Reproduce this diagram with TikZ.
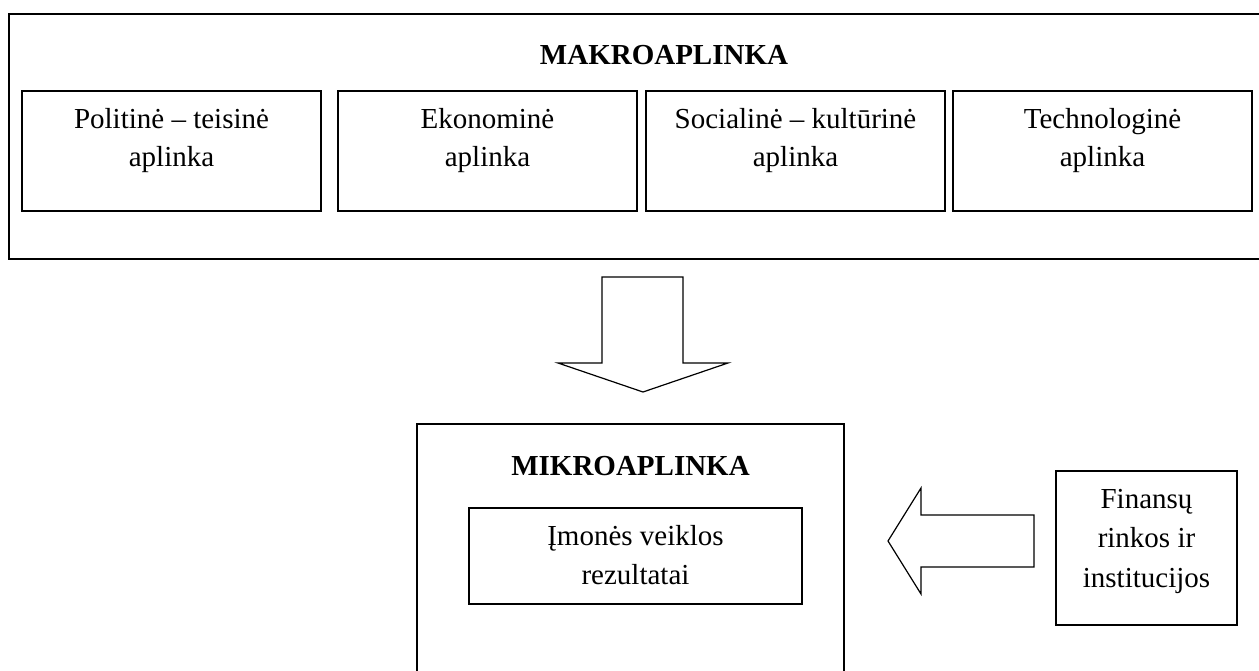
\documentclass[tikz,border=0pt]{standalone}
\usepackage{fontspec}
\setmainfont{Liberation Serif}
\begin{document}
\begin{tikzpicture}[x=1pt,y=-1pt,
  frame/.style={draw, line width=2.2pt, inner sep=0pt},
  envbox/.style={draw, line width=1.5pt, inner sep=0pt, minimum width=299pt, minimum height=120pt},
  plainbox/.style={draw, line width=1.5pt, inner sep=0pt},
  lbl/.style={align=center, inner sep=0pt, anchor=north, font=\fontsize{29}{38}\selectfont},
  lbllow/.style={lbl, font=\fontsize{29}{39.5}\selectfont},
  heading/.style={inner sep=0pt, anchor=base, font=\fontsize{29}{38}\selectfont\bfseries},
  blockarrow/.style={draw, line width=1.2pt, line join=miter}]
\clip (0,0) rectangle (1259,671);

% macro-environment frame (open on the right)
\node[frame, minimum width=1300pt, minimum height=245pt] (makro) at (659,136.5) {};
\node[heading] (makrotitle) at (664,65) {MAKROAPLINKA};

% the four macro factors
\node[envbox] (pol) at (171.5,151) {};
\node[envbox] (eko) at (487.5,151) {};
\node[envbox] (soc) at (795.5,151) {};
\node[envbox] (tech) at (1102.5,151) {};
\node[lbl] (poltxt) at (171.5,101.5) {\strut Politinė – teisinė\\aplinka};
\node[lbl] (ekotxt) at (487.5,101.5) {\strut Ekonominė\\aplinka};
\node[lbl] (soctxt) at (795.5,101.5) {\strut Socialinė – kultūrinė\\aplinka};
\node[lbl] (techtxt) at (1102.5,101.5) {\strut Technologinė\\aplinka};

% influence arrow downwards
\draw[blockarrow] (602,277) -- (683,277) -- (683,363) -- (728,363) -- (643,392)
  -- (558,363) -- (602,363) -- cycle;

% micro-environment
\node[plainbox, minimum width=427pt, minimum height=300pt] (mikro) at (630.5,574) {};
\node[heading] (mikrotitle) at (630.5,475) {MIKROAPLINKA};
\node[plainbox, minimum width=333pt, minimum height=96pt] (imone) at (635.5,556) {};
\node[lbllow] (imonetxt) at (635.5,517.5) {\strut Įmonės veiklos\\rezultatai};

% financial markets and their arrow
\node[plainbox, minimum width=181pt, minimum height=154pt] (fin) at (1146.5,548) {};
\node[lbllow] (fintxt) at (1146.5,480.5) {\strut Finansų\\rinkos ir\\institucijos};
\draw[blockarrow] (1034,515) -- (921,515) -- (921,488) -- (888,541) -- (921,594)
  -- (921,567) -- (1034,567) -- cycle;
\end{tikzpicture}
\end{document}
